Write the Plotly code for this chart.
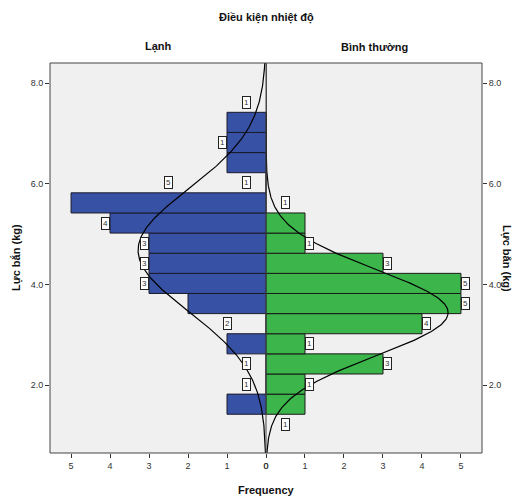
import numpy as np
import plotly.graph_objects as go

# ---- data ----
bin_centers = [1.62, 2.02, 2.42, 2.82, 3.22, 3.62, 4.02, 4.42, 4.82, 5.22, 5.62, 6.02, 6.42, 6.82, 7.22]
counts_cold = [1, 0, 0, 1, 0, 2, 3, 3, 3, 4, 5, 0, 1, 1, 1]
counts_normal = [1, 1, 3, 1, 4, 5, 5, 3, 1, 1, 0, 0, 0, 0, 0]
bin_width = 0.4
# fitted normal curves
mean_cold, sd_cold = 4.68, 1.216
mean_normal, sd_normal = 3.44, 0.854
group_names = ["Lạnh", "Bình thường"]
y_ticks = [2.0, 4.0, 6.0, 8.0]
x_ticks = [0, 1, 2, 3, 4, 5]

# label placement style: 0 = at bar end, +1 one bin above (mid), -1 one bin below (mid)
label_shift_cold = [1, 0, 0, -1, 0, -1, 0, 0, 0, 0, 1, 0, -1, 0, 1]
label_shift_normal = [-1, 0, 0, 0, 0, 0, 0, 0, 0, 1, 0, 0, 0, 0, 0]

BLUE = "#3751a4"
GREEN = "#3cb54a"
BG = "#f0f0f0"
FONT = "Liberation Sans, Arial, sans-serif"

y_min, y_max = 0.65, 8.4
x_max = 5.54

fig = go.Figure()
fig.add_trace(go.Bar(y=bin_centers, x=counts_cold, orientation="h", width=bin_width,
                     marker=dict(color=BLUE, line=dict(color="#1a1a2a", width=1)),
                     xaxis="x", yaxis="y", showlegend=False))
fig.add_trace(go.Bar(y=bin_centers, x=counts_normal, orientation="h", width=bin_width,
                     marker=dict(color=GREEN, line=dict(color="#1a1a1a", width=1)),
                     xaxis="x2", yaxis="y", showlegend=False))

yy = np.linspace(y_min, y_max, 400)
def curve(counts, mu, sd):
    n = sum(counts)
    return n * bin_width * np.exp(-0.5 * ((yy - mu) / sd) ** 2) / (sd * np.sqrt(2 * np.pi))

fig.add_trace(go.Scatter(x=curve(counts_cold, mean_cold, sd_cold), y=yy, mode="lines",
                         line=dict(color="black", width=1.2), xaxis="x", yaxis="y",
                         showlegend=False, hoverinfo="skip"))
fig.add_trace(go.Scatter(x=curve(counts_normal, mean_normal, sd_normal), y=yy, mode="lines",
                         line=dict(color="black", width=1.2), xaxis="x2", yaxis="y",
                         showlegend=False, hoverinfo="skip"))
# invisible trace to carry right-side y axis
fig.add_trace(go.Scatter(x=[None], y=[None], xaxis="x2", yaxis="y2", showlegend=False))

annotations = []
def add_labels(counts, shifts, xref, sign):
    for yc, c, s in zip(bin_centers, counts, shifts):
        if c == 0:
            continue
        if s == 0:
            ax_x, y, xs = c, yc, 5 * sign
        else:
            ax_x, y, xs = c / 2, yc + s * bin_width, 0
        annotations.append(dict(x=ax_x, y=y, xref=xref, yref="y", text=str(c), showarrow=False,
                                xshift=xs, font=dict(size=8, family=FONT, color="#333"),
                                bgcolor="white", bordercolor="#222", borderwidth=1, borderpad=1))

add_labels(counts_cold, label_shift_cold, "x", -1)
add_labels(counts_normal, label_shift_normal, "x2", 1)

# page has an 8px body margin; figure spans 8..520 horizontally, 8..498 vertically
OFF = 8
top_px, bottom_px, left_px, right_px = 63, 453, 50, 482
plot_h = bottom_px - top_px
plot_w = right_px - left_px

def txt(text, xpx, ypx, angle=0):
    return dict(text=text, x=(xpx - left_px) / plot_w, y=(bottom_px - ypx) / plot_h,
                xref="paper", yref="paper", xanchor="center", yanchor="middle",
                showarrow=False, textangle=angle, font=dict(size=11, family=FONT, color="#111"))

annotations += [
    txt("<b>Điều kiện nhiệt độ</b>", 266, 18),
    txt("<b>" + group_names[0] + "</b>", 158, 47),
    txt("<b>" + group_names[1] + "</b>", 374, 47),
    txt("<b>Frequency</b>", 266, 490),
    txt("<b>Lực bắn (kg)</b>", 16, 258, -90),
    txt("<b>Lực bắn (kg)</b>", 507, 258, 90),
]

axis_common = dict(showgrid=False, zeroline=False, ticks="outside", ticklen=4, tickwidth=1,
                   tickcolor="#333", tickfont=dict(size=9, family=FONT, color="#333"), showline=False)

fig.update_layout(
    width=520 - OFF, height=498 - OFF,
    margin=dict(l=left_px - OFF, r=520 - right_px, t=top_px - OFF, b=498 - bottom_px),
    paper_bgcolor="white", plot_bgcolor=BG,
    barmode="overlay",
    xaxis=dict(domain=[0, 0.5], range=[x_max, 0], tickvals=x_ticks, anchor="y", **axis_common),
    xaxis2=dict(domain=[0.5, 1], range=[0, x_max], tickvals=x_ticks, anchor="y", **axis_common),
    yaxis=dict(range=[y_min, y_max], tickvals=y_ticks, tickformat=".1f", anchor="x", **axis_common),
    yaxis2=dict(range=[y_min, y_max], tickvals=y_ticks, tickformat=".1f", anchor="x2", side="right",
                overlaying="y", **axis_common),
    annotations=annotations,
    shapes=[
        dict(type="rect", xref="paper", yref="paper", x0=0, x1=1, y0=0, y1=1,
             line=dict(color="#444", width=1)),
        dict(type="line", xref="paper", yref="paper", x0=0.5, x1=0.5, y0=0, y1=1,
             line=dict(color="#444", width=1)),
    ],
)

fig.write_html("out.html")
